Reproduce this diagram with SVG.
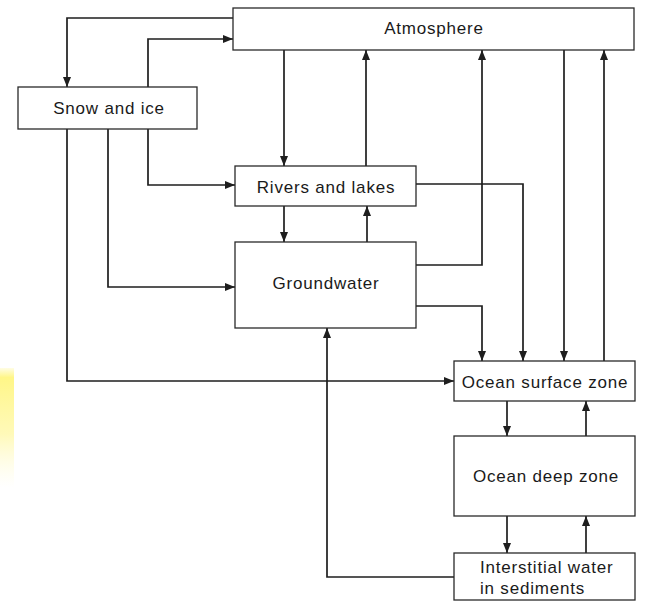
<svg xmlns="http://www.w3.org/2000/svg" width="645" height="607" viewBox="0 0 645 607">
<style>
.box{fill:#fff;stroke:#2a2a2a;stroke-width:1.3}
.ln{fill:none;stroke:#1e1e1e;stroke-width:1.7}
text{font-family:"Liberation Sans",Arial,sans-serif;font-size:17px;letter-spacing:0.8px;fill:#1a1a1a}
.c{text-anchor:middle}
</style>
<defs>
<marker id="ah" viewBox="0 0 10 8" refX="10" refY="4" markerWidth="10" markerHeight="8" markerUnits="userSpaceOnUse" orient="auto">
<path d="M0,0 L10,4 L0,8 Z" fill="#1e1e1e"/>
</marker>
<linearGradient id="yg" x1="0" y1="0" x2="0" y2="1">
<stop offset="0" stop-color="#fff57a" stop-opacity="0.2"/>
<stop offset="0.08" stop-color="#fff57a" stop-opacity="0.9"/>
<stop offset="0.55" stop-color="#fff79a" stop-opacity="0.7"/>
<stop offset="1" stop-color="#fffbd0" stop-opacity="0"/>
</linearGradient>
</defs>
<rect width="645" height="607" fill="#fff"/>
<rect x="0" y="368" width="14" height="120" fill="url(#yg)"/>
<g id="connectors">
<path class="ln" marker-end="url(#ah)" d="M233,18 H67 V87"/>
<path class="ln" marker-end="url(#ah)" d="M148,87 V39 H233"/>
<path class="ln" marker-end="url(#ah)" d="M148,129 V185 H235"/>
<path class="ln" marker-end="url(#ah)" d="M108,129 V287 H235"/>
<path class="ln" marker-end="url(#ah)" d="M67,129 V381 H454"/>
<path class="ln" marker-end="url(#ah)" d="M284,50 V166"/>
<path class="ln" marker-end="url(#ah)" d="M284,206 V242"/>
<path class="ln" marker-end="url(#ah)" d="M367,242 V206"/>
<path class="ln" marker-end="url(#ah)" d="M366,166 V50"/>
<path class="ln" marker-end="url(#ah)" d="M416,265 H482 V50"/>
<path class="ln" marker-end="url(#ah)" d="M416,184 H523 V361"/>
<path class="ln" marker-end="url(#ah)" d="M416,306 H482 V361"/>
<path class="ln" marker-end="url(#ah)" d="M564,50 V361"/>
<path class="ln" marker-end="url(#ah)" d="M604,361 V50"/>
<path class="ln" marker-end="url(#ah)" d="M507,401 V436"/>
<path class="ln" marker-end="url(#ah)" d="M586,436 V401"/>
<path class="ln" marker-end="url(#ah)" d="M507,516 V553"/>
<path class="ln" marker-end="url(#ah)" d="M586,553 V516"/>
<path class="ln" marker-end="url(#ah)" d="M454,577 H327 V328"/>
</g>
<g id="atmosphere">
<rect class="box" x="233" y="8" width="401" height="42"/>
<text class="c" x="434" y="34">Atmosphere</text>
</g>
<g id="snow">
<rect class="box" x="18" y="87" width="179" height="42"/>
<text class="c" x="109" y="114">Snow and ice</text>
</g>
<g id="rivers">
<rect class="box" x="235" y="166" width="181" height="40"/>
<text class="c" x="326" y="193">Rivers and lakes</text>
</g>
<g id="groundwater">
<rect class="box" x="235" y="242" width="181" height="86"/>
<text class="c" x="326" y="289">Groundwater</text>
</g>
<g id="oceansurface">
<rect class="box" x="454" y="361" width="181" height="40"/>
<text class="c" x="545" y="388">Ocean surface zone</text>
</g>
<g id="oceandeep">
<rect class="box" x="454" y="436" width="181" height="80"/>
<text class="c" x="546" y="482">Ocean deep zone</text>
</g>
<g id="interstitial">
<rect class="box" x="454" y="553" width="181" height="47"/>
<text x="480" y="573">Interstitial water</text>
<text x="480" y="594">in sediments</text>
</g>
</svg>
